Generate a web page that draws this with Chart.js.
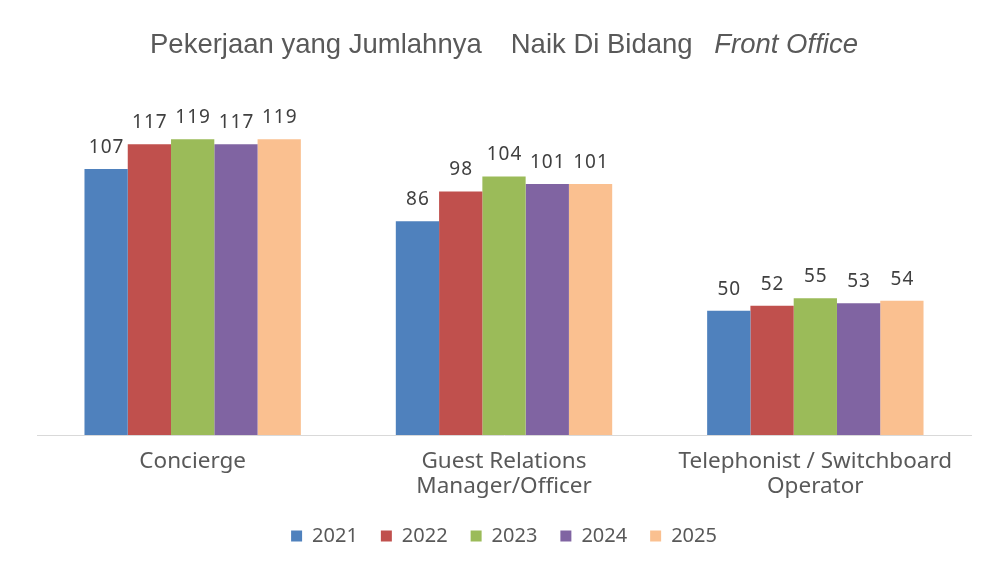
<!DOCTYPE html>
<html>
<head>
<meta charset="utf-8">
<script src="https://cdn.jsdelivr.net/npm/chart.js@4/dist/chart.umd.min.js"></script>
<style>
  html, body { margin: 0; padding: 0; background: #fff; }
  #wrap { position: relative; width: 991px; height: 564px; }
  #title { position: absolute; left: 150px; top: 28.5px; white-space: nowrap;
    font-family: "Liberation Sans", Arial, sans-serif; font-size: 27.5px; color: #595959;
    line-height: 30px; }
  #title .naik { margin-left: 29px; }
  #title i { margin-left: 14px; }
  canvas { position: absolute; left: 0; top: 0; }
</style>
</head>
<body>
<div id="wrap">
  <canvas id="c" width="991" height="564"></canvas>
  <div id="title">Pekerjaan yang Jumlahnya<span class="naik">Naik Di Bidang</span> <i>Front Office</i></div>
</div>
<script>
const categories = [["Concierge"], ["Guest Relations", "Manager/Officer"], ["Telephonist / Switchboard", "Operator"]];
const years = ["2021", "2022", "2023", "2024", "2025"];
const values2021 = [107, 86, 50];
const values2022 = [117, 98, 52];
const values2023 = [119, 104, 55];
const values2024 = [117, 101, 53];
const values2025 = [119, 101, 54];
const colors = ["#4F81BD", "#C0504D", "#9BBB59", "#8064A2", "#FAC090"];
const seriesValues = [values2021, values2022, values2023, values2024, values2025];

const LABEL_FONT = '"Noto Sans", sans-serif';

const barLabels = {
  id: 'barLabels',
  afterDatasetsDraw(chart) {
    const ctx = chart.ctx;
    ctx.save();
    ctx.font = '19px ' + LABEL_FONT;
    ctx.fillStyle = '#404040';
    ctx.textAlign = 'center';
    ctx.textBaseline = 'alphabetic';
    try { ctx.letterSpacing = '1px'; } catch (e) {}
    chart.data.datasets.forEach((ds, i) => {
      const meta = chart.getDatasetMeta(i);
      meta.data.forEach((bar, j) => {
        ctx.fillText(String(ds.data[j]), bar.x + 0.5, bar.y - 16);
      });
    });
    ctx.restore();
  }
};

new Chart(document.getElementById('c'), {
  type: 'bar',
  data: {
    labels: categories,
    datasets: years.map((y, i) => ({
      label: y,
      data: seriesValues[i],
      backgroundColor: colors[i],
      borderWidth: 0,
      categoryPercentage: 0.695,
      barPercentage: 1.0
    }))
  },
  options: {
    responsive: false,
    animation: false,
    layout: { padding: { left: 37, right: 20, top: 87, bottom: 8 } },
    plugins: {
      title: { display: false },
      tooltip: { enabled: false },
      legend: {
        position: 'bottom',
        labels: {
          boxWidth: 11, boxHeight: 11,
          padding: 23,
          color: '#595959',
          font: { family: LABEL_FONT, size: 20 }
        }
      }
    },
    scales: {
      x: {
        grid: { display: false, drawTicks: false },
        border: { display: true, color: '#D9D9D9', width: 1 },
        afterFit(scale) { scale.height = 68; },
        ticks: {
          color: '#595959',
          padding: 14,
          maxRotation: 0,
          autoSkip: false,
          font: { family: LABEL_FONT, size: 22.5, lineHeight: 25 / 22.5 }
        }
      },
      y: {
        display: false,
        min: 0, max: 140
      }
    }
  },
  plugins: [barLabels]
});
</script>
</body>
</html>
